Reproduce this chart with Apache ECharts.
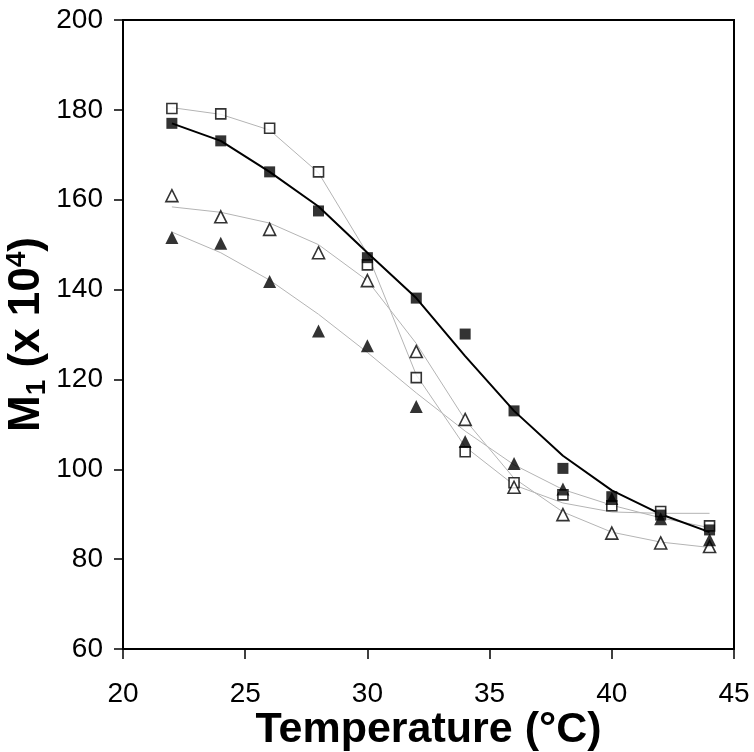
<!DOCTYPE html>
<html><head><meta charset="utf-8">
<script src="https://cdn.jsdelivr.net/npm/echarts@6/dist/echarts.min.js"></script>
<style>html,body{margin:0;padding:0;background:#fff}#c{width:754px;height:752px}</style>
</head><body><div id="c"></div>
<script>
const temps = [22,24,26,28,30,32,34,36,38,40,42,44];
const filledSq  = [177.0,173.1,166.2,157.5,147.1,138.1,130.1,113.0,100.2,93.9,89.8,86.5];
const openSq    = [180.3,179.1,175.9,166.2,145.5,120.4,103.9,97.0,94.3,91.9,90.6,87.4];
const openTri   = [160.9,156.2,153.4,148.2,142.0,126.2,111.1,96.0,89.9,85.8,83.6,82.8];
const filledTri = [151.6,150.3,141.8,130.8,127.5,114.0,106.2,101.3,95.6,93.5,89.0,84.3];
const fitFilledSq  = [177,173.1,166.2,158.5,148.2,138.1,125.2,113,103,95.3,90,86];
const fitOpenSq    = [180.5,179,175.5,166,148,121,105,96.5,92.5,90.5,90.2,90.2];
const fitOpenTri   = [158.4,157.2,154.8,150,142,128,111,98,90.5,86,83.8,82.6];
const fitFilledTri = [152.8,148.2,142.1,134.5,126,117,108.5,101,95.5,92,89.2,87];
const xTicks = {min:20,max:45,interval:5};
const yTicks = {min:60,max:200,interval:20};

const pair = arr => temps.map((t,i)=>[t,arr[i]]);
const font = 'Liberation Sans, Arial, sans-serif';
const chart = echarts.init(document.getElementById('c'));
function fit(arr,color,w){return {type:'line',data:pair(arr),symbol:'none',smooth:false,z:1,
  lineStyle:{color:color,width:w},silent:true};}
function pts(arr,sym,size,filled){return {type:'scatter',data:pair(arr),symbol:sym,symbolSize:size,z:5,
  itemStyle:filled?{color:'#000'}:{color:'#fff',borderColor:'#000',borderWidth:1.6}};}
chart.setOption({
  animation:false,
  grid:{left:123,right:20,top:20,bottom:103,show:true,borderColor:'#000',borderWidth:2,
    containLabel:false,outerBoundsMode:'none'},
  xAxis:{type:'value',min:xTicks.min,max:xTicks.max,interval:xTicks.interval,
    axisLine:{lineStyle:{color:'#000',width:2}},axisTick:{show:true,length:10,lineStyle:{color:'#000',width:1.5}},
    axisLabel:{color:'#000',fontSize:28,fontFamily:font,margin:31},splitLine:{show:false},
    name:'Temperature (°C)',nameLocation:'middle',nameGap:60,nameMoveOverlap:false,
    nameTextStyle:{color:'#000',fontSize:43,fontWeight:'bold',fontFamily:font}},
  yAxis:{type:'value',min:yTicks.min,max:yTicks.max,interval:yTicks.interval,
    axisLine:{lineStyle:{color:'#000',width:2}},axisTick:{show:true,length:9,lineStyle:{color:'#000',width:1.5}},
    axisLabel:{color:'#000',fontSize:28,fontFamily:font,margin:20},splitLine:{show:false},
    name:'{a|M}{sub|1}{a| (x 10}{sup|4}{a|)}',nameLocation:'middle',nameGap:72,nameRotate:90,nameMoveOverlap:false,
    nameTextStyle:{rich:{
      a:{fontSize:44,fontWeight:'bold',fontFamily:font,color:'#000'},
      sub:{fontSize:28,fontWeight:'bold',fontFamily:font,color:'#000',verticalAlign:'bottom',padding:[20,0,0,0]},
      sup:{fontSize:28,fontWeight:'bold',fontFamily:font,color:'#000',verticalAlign:'top',padding:[0,0,18,0]}
    }}},
  series:[
    fit(fitOpenSq,'#b4b4b4',1), fit(fitOpenTri,'#b4b4b4',1), fit(fitFilledTri,'#b4b4b4',1),
    fit(fitFilledSq,'#000',2),
    pts(openSq,'rect',10,false), pts(openTri,'triangle',12,false),
    pts(filledTri,'triangle',13,true), pts(filledSq,'rect',11,true)
  ]
});
</script></body></html>
